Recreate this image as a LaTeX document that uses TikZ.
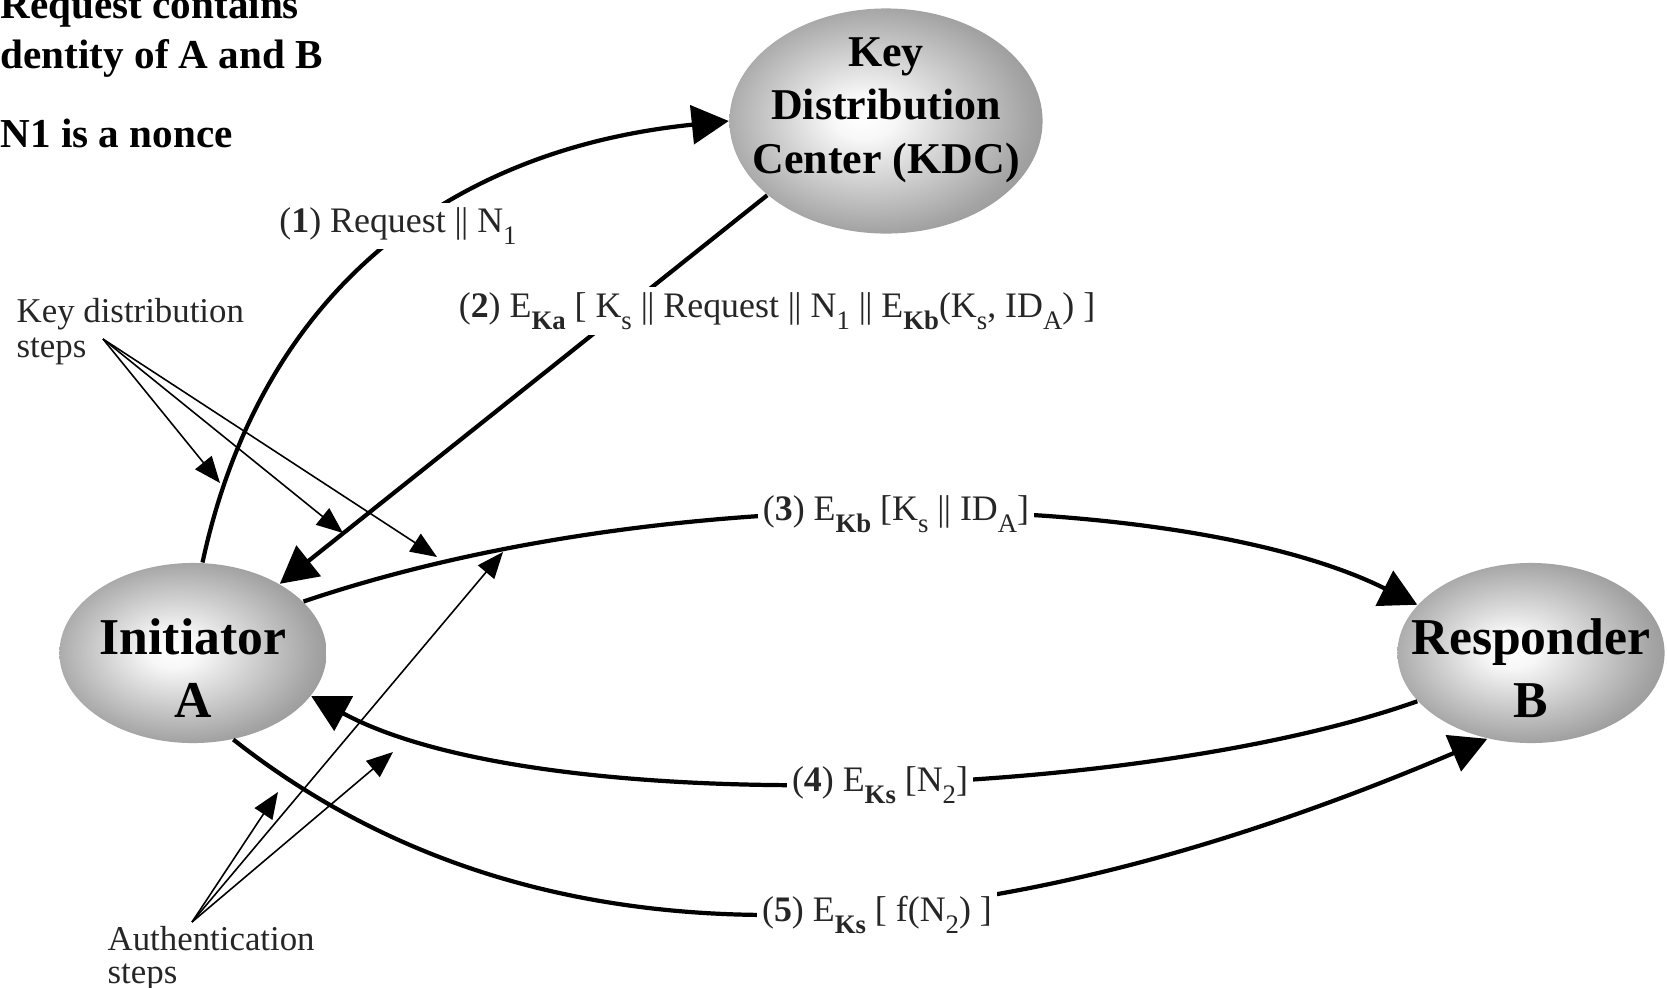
\documentclass[tikz,border=0pt]{standalone}
\usepackage{fontspec}
\setmainfont{Liberation Serif}
\usetikzlibrary{arrows.meta, positioning, shapes.geometric}

\pgfdeclareradialshading{globe}{\pgfpoint{-4bp}{1bp}}{color(0bp)=(white); color(5bp)=(white!97!black); color(25bp)=(black!36); color(30bp)=(black!42); color(50bp)=(black!45)}

\newcommand{\lowidx}[1]{\raisebox{-0.32em}{\fontsize{7.6}{8}\selectfont #1}}
\newcommand{\concat}{\textbar\kern-0.2pt\textbar}

\begin{document}
\begin{tikzpicture}[
    x=0.01cm, y=-0.01cm,
    every node/.style={font=\fontsize{10.2}{12}\selectfont},
    principal/.style={ellipse, shade, shading=globe, draw=none, inner sep=0pt},
    pname/.style={align=center, font=\bfseries\fontsize{14.7}{18}\selectfont},
    kname/.style={align=center, font=\bfseries\fontsize{12.5}{15.2}\selectfont},
    remark/.style={anchor=base west, inner sep=0pt, font=\bfseries\fontsize{11.7}{14}\selectfont},
    msg/.style={fill=white, inner sep=1.5pt, text=black!85},
    note/.style={align=left, anchor=north west, inner sep=0pt, text=black!85, font=\fontsize{9.9}{9.9}\selectfont},
    flow/.style={-{Triangle[length=10.5pt, width=11pt]}, line width=1.2pt},
    pointer/.style={-{Triangle[length=7.5pt, width=6pt]}, line width=0.45pt}
]

\useasboundingbox (0,0) rectangle (1667,987);

\node[principal, minimum width=3.13cm, minimum height=2.25cm] (kdc) at (886,121) {};
\node[principal, minimum width=2.67cm, minimum height=1.8cm] (init) at (193,653) {};
\node[principal, minimum width=2.67cm, minimum height=1.8cm] (resp) at (1531,653) {};

\node[kname] (kdctext) at (886,110) {Key\\Distribution\\Center (KDC)};
\node[pname] (inittext) at (193,668) {Initiator\\A};
\node[pname] (resptext) at (1531,668) {Responder\\B};

\node[remark] (rq) at (0,18) {Request contains};
\node[remark] (idn) at (-16,68) {Identity of A and B};
\node[remark] (nce) at (0,147) {N1 is a nonce};

\draw[flow] (init.84) .. controls +(59,-274) and +(-277,28) .. (kdc.west);
\draw[flow] (kdc.212) -- (init);
\draw[flow] (init.25) .. controls +(379,-128) and +(-224,-112) .. (resp.157);
\draw[flow] (resp.203) .. controls +(-283,100) and +(229,124) .. (init.340);
\draw[flow] (init.295) .. controls +(330,260) and +(-478,203) .. (resp.243);

\node[msg] (m1) at (398,226) {(\textbf{1}) Request \concat{} N\lowidx{1}};
\node[msg] (m2) at (777,311) {(\textbf{2}) E\lowidx{\textbf{Ka}} [ K\lowidx{s} \concat{} Request \concat{} N\lowidx{1} \concat{} E\lowidx{\textbf{Kb}}(K\lowidx{s}, ID\lowidx{A}) ]};
\node[msg] (m3) at (896,514) {(\textbf{3}) E\lowidx{\textbf{Kb}} [K\lowidx{s} \concat{} ID\lowidx{A}]};
\node[msg] (m4) at (880,785) {(\textbf{4}) E\lowidx{\textbf{Ks}} [N\lowidx{2}]};
\node[msg] (m5) at (877,915) {(\textbf{5}) E\lowidx{\textbf{Ks}} [ f(N\lowidx{2}) ]};

\node[note] (kdnote) at (16,298) {Key distribution\\steps};
\node[note, font=\fontsize{9.9}{9.3}\selectfont] (authnote) at (107,926) {Authentication\\steps};

\coordinate (kdsrc) at (103,339);
\coordinate (kd1) at (220,483);
\coordinate (kd2) at (343,533);
\coordinate (kd3) at (437,557);
\coordinate (ausrc) at (192,922);
\coordinate (au1) at (278,792);
\coordinate (au2) at (393,752);
\coordinate (au3) at (503,552);

\draw[pointer] (kdsrc) -- (kd1);
\draw[pointer] (kdsrc) -- (kd2);
\draw[pointer] (kdsrc) -- (kd3);
\draw[pointer] (ausrc) -- (au1);
\draw[pointer] (ausrc) -- (au2);
\draw[pointer] (ausrc) -- (au3);

\end{tikzpicture}
\end{document}
